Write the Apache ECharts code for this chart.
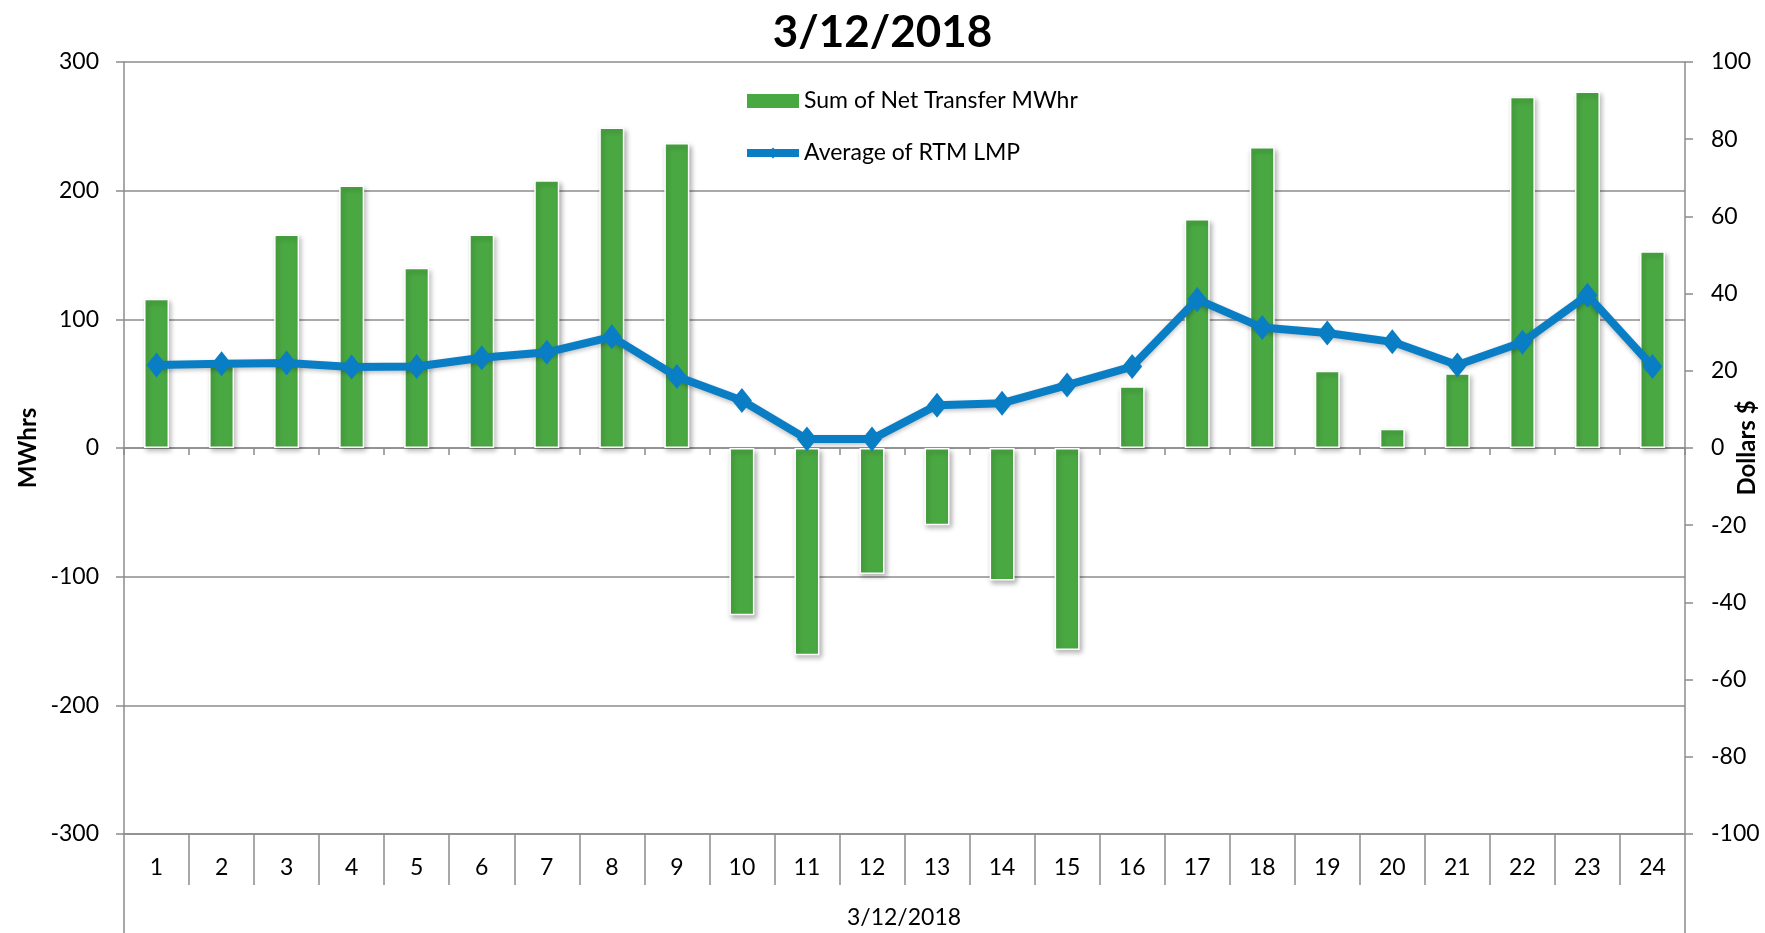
<!DOCTYPE html>
<html>
<head>
<meta charset="utf-8">
<title>3/12/2018</title>
<script src="https://cdn.jsdelivr.net/npm/echarts@6/dist/echarts.min.js"></script>
<style>
    html, body { margin: 0; padding: 0; background: #fff; }
    #chart { width: 1765px; height: 933px; }
</style>
</head>
<body>
<div id="chart"></div>
<script>
// data
const hours = ['1', '2', '3', '4', '5', '6', '7', '8', '9', '10', '11', '12',
    '13', '14', '15', '16', '17', '18', '19', '20', '21', '22', '23', '24']
const netTransfer = [116, 65, 166, 204, 140, 166, 208, 249, 237, -130, -161, -98,
    -60, -103, -157, 48, 178, 234, 60, 15, 58, 273, 277, 153]
const rtmLmp = [21.5, 21.8, 22, 21, 21.1, 23.4, 24.8, 28.8, 18.5, 12.3, 2.3, 2.3,
    11.1, 11.6, 16.3, 21.1, 38.5, 31.2, 29.8, 27.5, 21.5, 27.4, 39.6, 21.1]
const dayLabel = ['3/12/2018']

const font = 'Lato, "Open Sans", sans-serif'
const grey = '#8c8c8c'
const blue = '#0a7ec4'

const chart = echarts.init(document.getElementById('chart'))

chart.setOption({
    animation: false,
    backgroundColor: '#fff',
    textStyle: { fontFamily: font, color: '#000' },
    title: {
        text: '3/12/2018',
        left: 'center',
        top: 6,
        textStyle: { fontFamily: font, fontSize: 44, fontWeight: 'bold', color: '#000' }
    },
    legend: {
        orient: 'vertical',
        left: 738,
        top: 82,
        itemWidth: 52,
        itemHeight: 14,
        itemGap: 24,
        textStyle: { fontFamily: font, fontSize: 23, color: '#000', lineHeight: 28 },
        data: [
            { name: 'Sum of Net Transfer MWhr', icon: 'rect', itemStyle: { borderWidth: 0, shadowBlur: 0 } },
            { name: 'Average of RTM LMP', lineStyle: { width: 8, color: blue } }
        ]
    },
    grid: { left: 124, right: 80, top: 62, bottom: 99, outerBoundsMode: 'none' },
    // outer group label of the two-level category axis
    graphic: [{
        type: 'text',
        x: 904,
        y: 918,
        style: {
            text: dayLabel[0],
            fontSize: 23,
            fontFamily: font,
            fill: '#000',
            align: 'center',
            verticalAlign: 'middle'
        }
    }],
    xAxis: [
        {
            type: 'category',
            data: hours,
            position: 'bottom',
            axisLine: { onZero: false, lineStyle: { color: grey, width: 1.5 } },
            axisTick: { show: true, interval: 0, length: 51, lineStyle: { color: grey, width: 1.5 } },
            axisLabel: { interval: 0, margin: 22, fontSize: 23, color: '#000', fontFamily: font },
            splitLine: { show: false }
        },
        {
            type: 'category',
            data: hours,
            position: 'bottom',
            axisLine: { onZero: true, lineStyle: { color: grey, width: 1.5 } },
            axisTick: { show: true, interval: 0, length: 7, lineStyle: { color: grey, width: 1.5 } },
            axisLabel: { show: false },
            splitLine: { show: false }
        },
        {
            type: 'category',
            data: dayLabel,
            position: 'bottom',
            axisLine: { show: false, onZero: false },
            axisTick: { show: true, interval: 0, length: 99, lineStyle: { color: grey, width: 1.5 } },
            axisLabel: { show: false },
            splitLine: { show: false }
        }
    ],
    yAxis: [
        {
            type: 'value',
            min: -300,
            max: 300,
            interval: 100,
            name: 'MWhrs',
            nameLocation: 'middle',
            nameRotate: 90,
            nameGap: 84,
            nameMoveOverlap: false,
            nameTextStyle: { fontFamily: font, fontSize: 24, fontWeight: 'bold', color: '#000' },
            axisLine: { show: true, lineStyle: { color: grey, width: 1.5 } },
            axisTick: { show: true, length: 8, lineStyle: { color: grey, width: 1.5 } },
            axisLabel: { margin: 25, fontSize: 23, color: '#000', fontFamily: font },
            splitLine: { lineStyle: { color: grey, width: 1.5 } }
        },
        {
            type: 'value',
            min: -100,
            max: 100,
            interval: 20,
            position: 'right',
            name: 'Dollars $',
            nameLocation: 'middle',
            nameRotate: 90,
            nameGap: 50,
            nameMoveOverlap: false,
            nameTextStyle: { fontFamily: font, fontSize: 24, fontWeight: 'bold', color: '#000' },
            axisLine: { show: true, lineStyle: { color: grey, width: 1.5 } },
            axisTick: { show: true, length: 8, lineStyle: { color: grey, width: 1.5 } },
            axisLabel: { margin: 26, fontSize: 23, color: '#000', fontFamily: font },
            splitLine: { show: false }
        }
    ],
    series: [
        {
            name: 'Sum of Net Transfer MWhr',
            type: 'bar',
            xAxisIndex: 0,
            yAxisIndex: 0,
            data: netTransfer,
            barWidth: 25,
            itemStyle: {
                color: '#4aa842',
                borderColor: '#fff',
                borderWidth: 1.5,
                shadowColor: 'rgba(0,0,0,0.3)',
                shadowBlur: 5,
                shadowOffsetX: 2,
                shadowOffsetY: 3
            },
            z: 2
        },
        {
            name: 'Average of RTM LMP',
            type: 'line',
            xAxisIndex: 0,
            yAxisIndex: 1,
            data: rtmLmp,
            symbol: 'diamond',
            symbolSize: [20, 25],
            lineStyle: {
                color: blue,
                width: 8,
                shadowColor: 'rgba(0,0,0,0.25)',
                shadowBlur: 4,
                shadowOffsetY: 2
            },
            itemStyle: { color: blue },
            z: 3
        }
    ]
})

window.addEventListener('resize', () => chart.resize())
</script>
</body>
</html>
